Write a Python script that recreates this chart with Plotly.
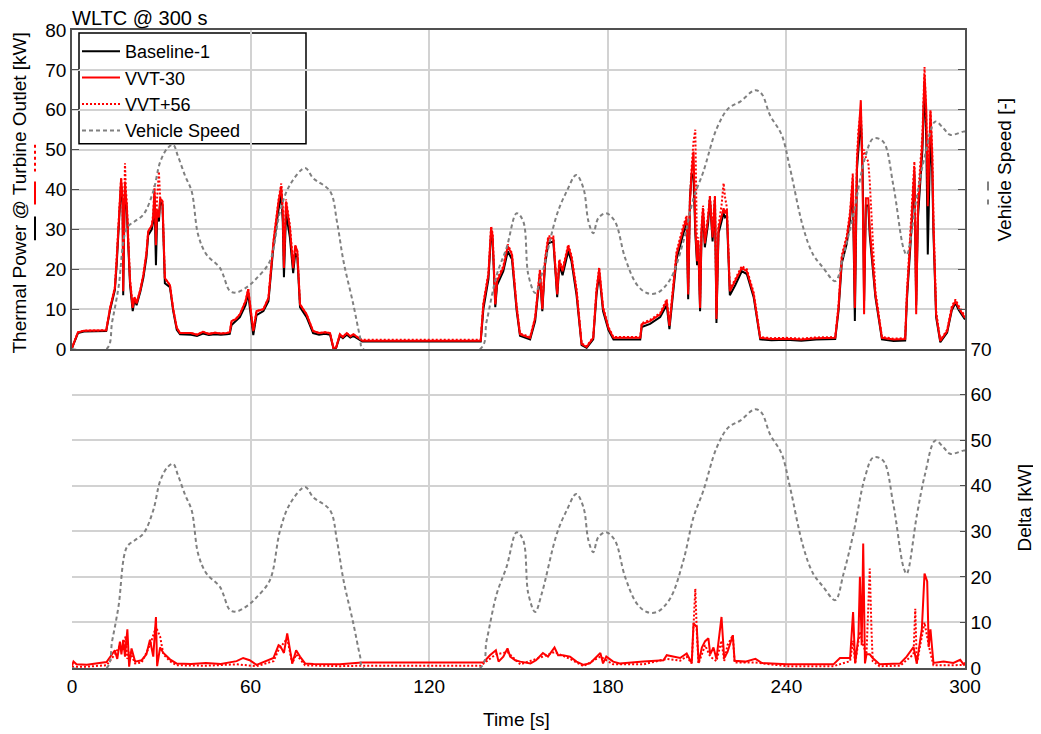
import plotly.graph_objects as go

# ---- top panel: thermal power [kW] ----
t_top = [0, 1, 2, 4, 8, 11.5, 12.8, 14.4, 15.0, 15.6, 16.1, 16.5, 17.0, 17.2, 17.5, 17.8, 18.1, 18.4, 18.9, 19.5,
         20.4, 21.0, 21.7, 23.0, 24.0, 25.0, 25.6, 26.8, 27.3, 27.7, 28.2, 28.6, 29.2, 29.6, 30.4, 31.2, 32.9, 34.0, 35.2, 36.3,
         40, 42, 44, 46, 48, 50, 52, 53, 53.6, 55, 56.4, 58.3, 59.2, 59.8, 60.9, 62.0, 64.3, 66.0, 67.7, 69.4,
         70.3, 70.8, 71.2, 71.9, 73.2, 74.3, 75.0, 75.7, 76.6, 78.8, 81.0, 83, 85, 86.7, 87.8, 88.7, 90.0, 91, 92.3, 93.5,
         94.5, 96.8,
         97.5, 110, 125, 137.3, 138.2, 139.9, 140.8, 141.3, 142.2, 142.8, 144.9, 146.4, 147.8, 149.4, 150.5, 153.9, 155.6, 157.2, 158.0, 158.9,
         160.0, 161.7, 163.0, 163.7, 164.8, 166.7, 167.8, 169.5, 171.2, 172.9, 175.1, 176.2, 177.1, 177.9, 178.4, 180.2, 181.9,
         186, 190.9, 191.4, 194.2, 197.6, 199.8, 200.7, 201.5, 203.1, 205.4, 206.5, 207.0, 207.6, 208.2, 208.8, 209.4, 210.0, 210.4, 211.0, 211.5,
         212.0, 212.6, 213.2, 213.7, 214.3, 215.2, 216.0, 216.5, 217.2, 218.2, 218.9, 219.4, 220.0, 221.0, 222.8, 225.0, 226.7, 229.0, 231.2,
         235, 240, 245, 250, 256.4, 257.5, 258.6, 260.3, 261.4, 262.3, 263.0, 263.7, 264.2, 265.0, 265.6, 266.1, 266.7, 267.5, 268.0, 269.9,
         272.1, 276, 279.9, 280.5, 282.1, 283.0, 283.6, 284.2, 285.7, 286.4, 287.0, 287.5, 288.4, 289.0, 289.4, 290.3, 291.7, 294.0, 295.6, 296.8,
         297.9, 299.4, 300]

baseline = [0.2, 2.3, 4.0, 4.4, 4.5, 4.5, 9.8, 14.8, 21, 29.5, 35, 41.5, 36, 13.5, 29, 40, 37, 35, 26, 16,
            9.5, 12.4, 11, 14.5, 18, 23, 28.5, 30, 32, 38.5, 21, 33, 32, 37, 36, 16.5, 15.5, 9.5, 4.8, 3.7,
            3.6, 3.3, 3.9, 3.5, 3.7, 3.6, 3.7, 3.8, 6.0, 7.0, 8.0, 11, 14, 10, 3.5, 8.5, 9.5, 12, 26, 35,
            39, 32, 18, 34, 28, 19, 24, 23, 10.5, 8.0, 4.0, 3.6, 3.8, 3.6, 0.2, 0.2, 3.3, 2.7, 3.6, 2.9,
            3.3, 2.2,
            1.9, 1.9, 1.9, 1.9, 10, 17.5, 29, 27.5, 10.5, 16, 19.5, 24.5, 22.5, 9.5, 3.3, 2.4, 7.0, 18.5, 9.5, 21,
            26.5, 27, 13, 21, 18.5, 24.5, 22, 13.5, 1.0, 0.3, 2.4, 13.5, 19, 13, 9.5, 4.8, 2.4,
            2.4, 2.4, 5.5, 6.3, 8.0, 11, 5.0, 10.5, 22.5, 29, 31.5, 12.5, 38, 44, 43, 29, 21, 26, 9.5, 29,
            34, 25.5, 29, 31.5, 37.8, 27, 37.5, 6.5, 29, 32, 34, 33, 33.5, 13.5, 16, 19.5, 18.8, 13, 2.4,
            2.2, 2.3, 2.1, 2.4, 2.5, 9.5, 21.5, 26.5, 32.5, 41, 7, 45, 50, 58, 45, 12, 36, 36, 28.5, 13,
            2.4, 2.0, 2.1, 12.5, 31, 44, 11, 33, 50, 67, 52, 23.7, 55, 44, 29, 8.0, 1.7, 4.1, 9.8, 11.5,
            9.8, 7.9, 7.4]

vvt_m30 = [0.3, 2.5, 4.2, 4.6, 4.7, 4.7, 10.3, 15.3, 22, 30.3, 36, 42.8, 37, 14.5, 30, 42, 38, 36, 27, 17,
           10.3, 13, 11.5, 15, 18.7, 24, 29.5, 31, 33, 40, 26, 35, 33, 37.8, 37, 17.8, 16, 10, 5.3, 4.0,
           4.0, 3.6, 4.3, 3.8, 4.1, 3.9, 4.0, 4.2, 7.0, 7.5, 8.7, 12, 15, 11, 4.5, 9.5, 10, 12.8, 27, 37,
           40.8, 34.5, 20.3, 37, 30.3, 20.3, 26, 24.5, 11.2, 8.7, 4.5, 4.0, 4.2, 4.0, 0.3, 0.3, 3.7, 3.0, 4.0, 3.2,
           3.7, 2.5,
           2.1, 2.1, 2.1, 2.1, 11.2, 18.7, 30.3, 28.5, 11.2, 17, 20.3, 25.8, 23.7, 10.3, 3.7, 2.8, 7.8, 19.5, 10, 22,
           27.8, 27.8, 13.7, 22, 19.5, 25.8, 23, 14.5, 1.2, 0.5, 2.8, 14.5, 20, 14, 10.3, 5.3, 2.8,
           2.8, 2.8, 6.2, 7, 8.7, 12, 5.8, 11.2, 23.7, 30.3, 32.8, 13.7, 37, 44.5, 49.5, 30.3, 22, 27, 10.3, 30,
           35.3, 26.5, 30, 32.8, 37.8, 28, 38.2, 7.5, 30.3, 33, 35.3, 34, 35, 14.5, 17, 20.3, 19.5, 13.7, 2.8,
           2.5, 2.6, 2.4, 2.7, 2.8, 10.3, 22.8, 27.8, 33.7, 42.8, 10.3, 47, 53.7, 62.4, 42, 8.7, 37.8, 37.8, 30, 13.7,
           2.8, 2.4, 2.5, 13.7, 32.8, 45.5, 8.7, 35, 52, 68.7, 60, 35.8, 59.5, 48, 31, 8.7, 2, 4.5, 10.3, 12,
           10.3, 8.3, 7.8]

vvt_p56 = [0.3, 2.5, 4.2, 4.6, 4.7, 4.7, 10.3, 15.5, 23, 31, 38, 43, 38, 20, 34, 46.6, 40, 37, 28, 17.5,
           10.5, 13, 11.5, 15, 18.7, 24, 29.5, 31, 34, 41, 30, 38, 44.5, 38, 37, 17.8, 16, 10, 5.3, 4.0,
           4.0, 3.6, 4.3, 3.8, 4.1, 3.9, 4.0, 4.2, 7.0, 7.5, 8.7, 12, 15, 11, 4.5, 9.5, 10, 12.8, 27, 37.5,
           41.5, 35, 22, 37.5, 31, 21, 26, 24.5, 11.2, 8.7, 4.5, 4.0, 4.2, 4.0, 0.3, 0.3, 3.7, 3.0, 4.0, 3.2,
           3.7, 2.5,
           2.3, 2.3, 2.3, 2.3, 11.5, 19, 30.8, 29, 11.5, 17.5, 20.8, 26.2, 24, 10.6, 3.9, 3.0, 8.0, 20, 10.5, 22.5,
           28.3, 28.2, 14, 22.5, 20, 26.2, 23.5, 15, 1.4, 0.7, 3.0, 15, 20.5, 14.5, 10.6, 5.5, 3.0,
           3.0, 3.0, 6.5, 7.3, 9.0, 12.5, 6.2, 11.8, 24.5, 31, 33.5, 15, 38, 46, 52, 55, 23, 28, 12, 31,
           36, 28, 31, 33.5, 38.5, 30, 38.5, 9, 31, 36, 41.6, 38, 35.5, 15, 17.5, 20.8, 20, 14.2, 3.0,
           2.7, 2.8, 2.6, 2.9, 3.0, 10.8, 23.5, 28.5, 34.5, 44, 14, 48, 55, 60, 48, 50, 48, 47, 42, 14.5,
           3.0, 2.6, 2.7, 14.5, 34, 47, 12, 38, 54, 70.7, 58, 40, 60, 50, 33, 9.5, 2.2, 4.8, 10.8, 12.4,
           10.8, 8.7, 8.2]

# ---- vehicle speed [km/h] ----
t_speed = [0, 11.6, 13.5, 15.6, 18.4, 21, 24, 27.3, 29.6, 32, 34, 35.5, 38, 40.2, 42.4, 45.2, 49.7, 53.1, 55.3, 59.2,
           62, 66.5, 69.9, 73.2, 78.3, 81, 86.7, 89, 91.2, 94.5, 96.8, 97.8, 137.1, 139.3, 142.7, 146, 149.4, 151.6, 153.3, 155.6,
           157.8, 162.9, 166.2, 169.4, 171.8, 173.5, 175.1, 176.8, 179.4, 182.4, 185.8, 189.7, 193.1, 196.5, 200.9, 205.4, 208.8, 212.1, 216.6, 220.5,
           224.5, 229.5, 231.7, 234.5, 238.4, 241.2, 245.7, 249, 252.4, 256.4, 259.2, 262.5, 266.4, 269.2, 272.5, 275.9, 279.3, 280.4, 283.9, 286.6,
           290, 292.8, 295, 299.4, 300]
speed = [0, 0, 6, 13.4, 26.5, 28, 29.5, 34.6, 41, 44, 44.8, 42.5, 38, 34.6, 25, 20.7, 17.8, 12.7, 12.4, 13.8,
         15.5, 19.3, 30.2, 36, 39.7, 37.5, 34.6, 28, 19.3, 9.8, 2.5, 0, 0, 6.1, 16.3, 22.2, 29.8, 28, 16.3, 12.3,
         16.3, 29.5, 34.6, 38.2, 35.3, 28, 25.4, 28.7, 29.8, 28, 20, 14.2, 12.3, 12.3, 15.2, 23.6, 33.1, 38.9, 48.4, 52.8,
         54.3, 56.8, 56, 51.3, 47, 39.7, 26.5, 20.7, 17.8, 14.9, 20.7, 29.5, 41.9, 46.2, 45.5, 36, 22.2, 20.7, 33.8, 42.6,
         49.9, 48.4, 47, 47.7, 47.7]

# ---- bottom panel: delta [kW] ----
t_d30 = [0, 0.5, 1.5, 5, 11.6, 13, 14.4, 15.2, 16.1, 16.6,
         17.2, 17.8, 18.6, 19.2, 20.0, 21.2, 23.4, 25, 26.2, 27.3,
         28.2, 28.6, 29.6, 30.7, 32.9, 35.1, 40, 45, 50, 55.3,
         57.5, 59.7, 62, 67.7, 69.4, 70, 71.2, 72.3, 72.9, 74,
         75.3, 76.6, 78.3, 81.1, 90, 97.4, 137.3, 138.2, 140.4, 142.4,
         143.3, 144.9, 146.3, 147.2, 148.9, 150.6, 154, 155.9, 158.2, 159.9,
         162.1, 163.3, 164.9, 167.3, 169.5, 171.8, 174, 176.2, 177.5, 178.4,
         179.5, 181.8, 184, 192, 198.7, 199.8, 202, 204.3, 206.5, 208.2,
         208.8, 209.9, 210.5, 211.6, 212.7, 213.8, 214.4, 215.5, 216.5, 218.2,
         219.1, 220.2, 222, 222.6, 226.2, 229.6, 231.8, 240, 250, 255.8,
         258, 261.4, 262.4, 263.1, 264.2, 264.7, 265.3, 265.8, 266.4, 266.9,
         268, 269, 271.3, 278.2, 280.4, 282.7, 283.8, 285.5, 286.4, 287.3,
         287.8, 288.4, 289, 289.4, 292.8, 296.1, 298.4, 299.5, 300]
delta_m30 = [0.5, 1.4, 0.8, 0.7, 1.3, 2.5, 3.9, 2.0, 5.8, 3.0,
             6.2, 2.5, 8.5, 0.3, 4.3, 1.4, 1.7, 3.0, 6.2, 2.5,
             11.2, 0.4, 4.5, 3.3, 1.9, 1.0, 0.9, 1.1, 0.9, 1.5,
             2.2, 1.7, 0.7, 2.2, 5.0, 4.8, 3.3, 7.6, 5.5, 1.0,
             3.9, 2.5, 1.0, 0.9, 0.8, 1.2, 1.2, 1.2, 2.8, 3.9,
             1.4, 2.5, 4.3, 2.5, 1.7, 1.4, 1.0, 1.7, 3.3, 2.5,
             4.5, 2.8, 2.8, 2.5, 1.4, 0.7, 1.0, 2.5, 3.3, 1.0,
             2.5, 1.4, 1.0, 1.4, 1.7, 2.8, 2.5, 2.2, 3.2, 1.1,
             9.8, 9.0, 1.1, 4.5, 5.9, 6.5, 3.0, 4.5, 2.0, 11.2,
             2.2, 3.5, 7.2, 1.6, 1.4, 2.0, 1.1, 0.8, 0.8, 0.8,
             2.2, 2.2, 12.3, 1.0, 6.9, 20, 5, 27.3, 1.0, 3.0,
             3.0, 2.2, 0.8, 1.0, 2.5, 4.6, 1.0, 8.5, 20.7, 19,
             4.6, 8.5, 4.0, 1.1, 1.4, 1.1, 1.8, 0.8, 1.2]

t_d56 = [0, 5, 11.6, 14.4, 16.1, 17.2, 18.0, 18.6, 19.5, 21.2,
         23.4, 26.2, 28.2, 29.6, 30.7, 32.9, 35.1, 45, 55.3, 62,
         67.7, 69.4, 72.3, 74, 75.3, 78.3, 90, 97.4, 137.3, 140.4,
         142.4, 146.3, 150.6, 158.2, 162.1, 167.3, 171.8, 177.5, 181.8, 192,
         199.8, 204.3, 206.5, 208.2, 208.8, 209.4, 209.9, 210.5, 212.7, 214.4,
         216.5, 218.2, 219.1, 220.2, 222, 222.6, 229.6, 240, 255.8, 261.4,
         262.4, 263.1, 264.7, 265.8, 266.9, 267.5, 268, 268.6, 269, 271.3,
         278.2, 282.7, 283.3, 283.8, 286.4, 287.8, 289.4, 296.1, 300]
delta_p56 = [0.3, 0.3, 0.6, 3.0, 5.0, 4.0, 7.0, 2.0, 3.5, 1.0,
             1.2, 5.0, 9.0, 6.9, 3.0, 1.5, 0.6, 0.5, 0.8, 0.4,
             1.5, 4.0, 6.5, 1.0, 3.0, 0.6, 0.4, 0.5, 0.5, 2.0,
             3.0, 3.5, 0.8, 2.5, 3.5, 2.0, 0.4, 2.5, 0.8, 0.8,
             2.0, 1.6, 2.5, 1.0, 9.0, 17.4, 8.0, 1.0, 5.0, 2.5,
             1.5, 6.0, 1.5, 5.0, 7.2, 1.2, 1.2, 0.4, 0.4, 1.5,
             6.0, 1.0, 8.0, 5.0, 3.0, 12.0, 21.8, 8.0, 1.5, 0.4,
             0.5, 3.0, 13.0, 1.0, 10.0, 5.0, 0.6, 0.6, 0.7]

x_ticks = [0, 60, 120, 180, 240, 300]

FONT = "Liberation Sans, Arial, sans-serif"
GRID = "#d2d2d2"
AXC = "#505050"
RED = "#ff0000"
GREY = "#808080"
FS = 19      # ticks and axis labels
FS_LEG = 18  # legend
FS_BIG = 20  # title

# the page body adds an 8 px offset, so the figure is sized to fit inside it
OFF = 8
W, H = 1041 - OFF, 734 - OFF
# plot area in page pixels (used to place the decorations)
L, R, T, B = 72, 965, 28, 668


def px_x(x):
    return (x - L) / (R - L)


def px_y(y):
    return (B - y) / (B - T)


fig = go.Figure()

# top panel
fig.add_trace(go.Scatter(x=t_top, y=baseline, name="Baseline-1", xaxis="x2", yaxis="y2",
                         mode="lines", line=dict(color="black", width=2), legendrank=1))
fig.add_trace(go.Scatter(x=t_top, y=vvt_p56, name="VVT+56", xaxis="x2", yaxis="y2",
                         mode="lines", line=dict(color=RED, width=2, dash="2px,2px"), legendrank=3))
fig.add_trace(go.Scatter(x=t_top, y=vvt_m30, name="VVT-30", xaxis="x2", yaxis="y2",
                         mode="lines", line=dict(color=RED, width=2), legendrank=2))
fig.add_trace(go.Scatter(x=t_speed, y=speed, name="Vehicle Speed", xaxis="x2", yaxis="y4",
                         mode="lines", line=dict(color=GREY, width=2, dash="4px,3px", shape="spline"),
                         legendrank=4))

# bottom panel
fig.add_trace(go.Scatter(x=t_speed, y=speed, xaxis="x", yaxis="y3", showlegend=False,
                         mode="lines", line=dict(color=GREY, width=2, dash="4px,3px", shape="spline")))
fig.add_trace(go.Scatter(x=t_d56, y=delta_p56, xaxis="x", yaxis="y", showlegend=False,
                         mode="lines", line=dict(color=RED, width=2, dash="2px,2px")))
fig.add_trace(go.Scatter(x=t_d30, y=delta_m30, xaxis="x", yaxis="y", showlegend=False,
                         mode="lines", line=dict(color=RED, width=2)))

fig.update_layout(
    width=W, height=H,
    margin=dict(l=L - OFF, r=W - (R - OFF), t=T - OFF, b=H - (B - OFF)),
    paper_bgcolor="white", plot_bgcolor="white",
    font=dict(family=FONT, size=FS, color="black"),
    showlegend=True,
    legend=dict(x=px_x(77), y=px_y(31), xanchor="left", yanchor="top",
                bgcolor="rgba(0,0,0,0)", borderwidth=0, itemwidth=38,
                font=dict(size=FS_LEG), tracegroupgap=0),
    xaxis=dict(domain=[0, 1], range=[0, 300], tickvals=x_ticks, anchor="y",
               showgrid=True, gridcolor=GRID, gridwidth=1.5, zeroline=False,
               showline=True, linecolor=AXC, linewidth=1.5, ticks=""),
    xaxis2=dict(domain=[0, 1], range=[0, 300], matches="x", tickvals=x_ticks, anchor="y2",
                showticklabels=False, showgrid=True, gridcolor=GRID, gridwidth=1.5,
                zeroline=False, showline=True, mirror=True, linecolor=AXC, linewidth=1.5, ticks=""),
    yaxis=dict(domain=[0, 0.5], range=[0, 70], dtick=10, anchor="x", side="right",
               ticks="inside", ticklen=5, tickcolor=AXC, showline=True, linecolor=AXC, linewidth=1.5,
               showgrid=True, gridcolor=GRID, gridwidth=1.5, zeroline=False),
    yaxis3=dict(overlaying="y", range=[0, 70], side="left", showticklabels=False,
                showgrid=False, zeroline=False, showline=False, ticks=""),
    yaxis2=dict(domain=[0.5, 1], range=[0, 80], dtick=10, anchor="x2", side="left",
                ticks="inside", ticklen=7, tickcolor=AXC, showline=True, mirror="ticks",
                linecolor=AXC, linewidth=1.5, showgrid=True, gridcolor=GRID, gridwidth=1.5,
                zeroline=False),
    yaxis4=dict(overlaying="y2", range=[0, 70], side="right", showticklabels=False,
                showgrid=False, zeroline=False, showline=False, ticks=""),
)

# legend frame
fig.add_shape(type="rect", xref="paper", yref="paper", layer="below",
              x0=px_x(79), x1=px_x(306), y0=px_y(142), y1=px_y(31),
              line=dict(color="black", width=1.5), fillcolor="white")

# titles and axis labels
fig.add_annotation(text="WLTC @ 300 s", xref="paper", yref="paper", x=px_x(70), y=px_y(29),
                   xanchor="left", yanchor="bottom", showarrow=False, font=dict(size=FS_BIG))
fig.add_annotation(text="Time [s]", xref="paper", yref="paper", x=px_x(516), y=px_y(720),
                   xanchor="center", yanchor="middle", showarrow=False, font=dict(size=FS))
fig.add_annotation(text="Thermal Power @ Turbine Outlet [kW]", xref="paper", yref="paper",
                   x=px_x(19), y=px_y(192), textangle=-90, xanchor="center", yanchor="middle",
                   showarrow=False, font=dict(size=FS))
fig.add_annotation(text="Vehicle Speed [-]", xref="paper", yref="paper",
                   x=px_x(1005), y=px_y(168), textangle=-90, xanchor="center", yanchor="middle",
                   showarrow=False, font=dict(size=FS))
fig.add_annotation(text="Delta [kW]", xref="paper", yref="paper",
                   x=px_x(1025), y=px_y(507), textangle=-90, xanchor="center", yanchor="middle",
                   showarrow=False, font=dict(size=FS))

# small line keys next to the axis labels
keys = [
    (35, 215, 239, "black", "solid"),
    (35, 180, 203, RED, "solid"),
    (35, 143, 170, RED, "dot"),
    (988, 180, 203, GREY, "dash"),
]
for kx, ky0, ky1, kc, kd in keys:
    fig.add_shape(type="line", xref="paper", yref="paper",
                  x0=px_x(kx), x1=px_x(kx), y0=px_y(ky0), y1=px_y(ky1),
                  line=dict(color=kc, width=2, dash=kd))

fig.write_html("out.html")
